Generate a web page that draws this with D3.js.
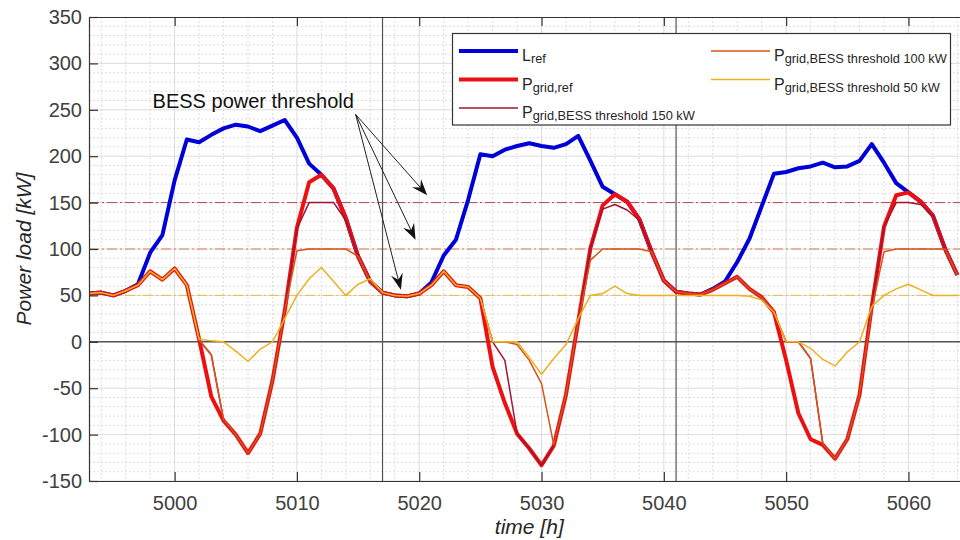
<!DOCTYPE html>
<html>
<head>
<meta charset="utf-8">
<title>Power load</title>
<style>
  body { margin: 0; background: #fff; }
  text { font-family: Arial, "Liberation Sans", Helvetica, sans-serif; }
</style>
</head>
<body>
<script src="https://cdn.jsdelivr.net/npm/d3@7"></script>
<script>
// hours 4993 .. 5064
var hours = d3.range(4993, 5065);

var lRef = [52, 53, 50, 55, 62, 96, 115, 174, 218, 215, 223, 230, 234, 232, 227, 233, 239,
  220, 192, 180, 165, 133, 92, 65, 53, 50, 49, 52, 64, 93, 110, 153, 202, 200, 207, 211, 214,
  211, 209, 213, 222, 195, 167, 159, 151, 132, 97, 66, 54, 52, 51, 57, 65, 86, 111, 146, 181,
  183, 187, 189, 193, 188, 189, 195, 213, 193, 171, 161, 151, 136, 100, 72];

var pGridRef = [52, 53, 50, 55, 61, 76, 67, 79, 61, 3, -59, -85, -100, -120, -99, -42, 33,
  123, 172, 180, 165, 133, 92, 65, 53, 50, 49, 52, 61, 76, 61, 59, 47, -27, -66, -99, -115,
  -133, -112, -57, 22, 101, 147, 159, 151, 132, 97, 66, 54, 52, 51, 56, 63, 70, 57, 48, 32,
  -20, -77, -105, -111, -126, -105, -57, 38, 124, 158, 161, 151, 136, 100, 72];

var pGrid150 = [52, 53, 50, 55, 61, 76, 67, 79, 61, 2, -14, -84, -100, -120, -99, -42, 33,
  122, 150, 150, 150, 131, 92, 65, 53, 50, 49, 52, 61, 76, 61, 59, 47, 0, -20, -99, -115,
  -133, -112, -57, 22, 101, 143, 148, 142, 131, 97, 66, 54, 52, 51, 56, 63, 70, 57, 48, 32,
  0, 0, -18, -110, -126, -105, -57, 38, 124, 150, 150, 148, 136, 100, 72];

var pGrid100 = [52, 53, 50, 55, 61, 76, 67, 79, 61, 2, -14, -84, -100, -120, -99, -42, 33,
  98, 100, 100, 100, 100, 92, 65, 53, 50, 49, 52, 61, 76, 61, 59, 47, 0, 0, -3, -20,
  -45, -111, -57, 22, 88, 100, 100, 100, 100, 97, 66, 54, 52, 51, 56, 63, 70, 57, 48, 32,
  0, 0, -18, -110, -126, -105, -57, 35, 97, 100, 100, 100, 100, 100, 72];

var pGrid50 = [52, 53, 50, 55, 61, 76, 67, 79, 61, 3, 1, 0, -10, -21, -8, 0, 25,
  50, 68, 80, 65, 50, 62, 68, 53, 50, 49, 52, 61, 76, 61, 59, 47, 0, 0, 0, -17,
  -35, -18, -3, 25, 50, 52, 60, 52, 50, 50, 50, 50, 50, 50, 50, 50, 50, 49, 45, 32,
  0, 0, -7, -19, -26, -11, 0, 38, 50, 57, 62, 56, 50, 50, 50];

var thresholds = [150, 100, 50];
var thresholdColors = ['#a2142f', '#d95319', '#edb120'];

var xTicks = [5000, 5010, 5020, 5030, 5040, 5050, 5060];
var yTicks = [-150, -100, -50, 0, 50, 100, 150, 200, 250, 300, 350];
var xMinor = [4994, 4996, 4998, 5002, 5004, 5006, 5008, 5012, 5014, 5016, 5018, 5022, 5024,
  5026, 5028, 5032, 5034, 5036, 5038, 5042, 5044, 5046, 5048, 5052, 5054, 5056, 5058, 5062, 5064];
var yMinor = d3.range(-140, 350, 10).filter(function(v){ return v % 50 !== 0; });
var markerHours = [5017, 5041];

var series = [
  {name: 'L', sub: 'ref', values: lRef, color: '#0000d8', width: 4},
  {name: 'P', sub: 'grid,ref', values: pGridRef, color: '#ee1010', width: 4},
  {name: 'P', sub: 'grid,BESS threshold 150 kW', values: pGrid150, color: '#a2142f', width: 1.5},
  {name: 'P', sub: 'grid,BESS threshold 100 kW', values: pGrid100, color: '#d95319', width: 1.5},
  {name: 'P', sub: 'grid,BESS threshold 50 kW', values: pGrid50, color: '#edb120', width: 1.5}
];

var svg = d3.select('body').append('svg').attr('width', 960).attr('height', 540);

var plotL = 89, plotT = 17, plotR = 969.6, plotB = 481;
var x = d3.scaleLinear().domain([4993, 5065]).range([plotL, plotR]);
var y = d3.scaleLinear().domain([-150, 350]).range([plotB, plotT]);

svg.append('clipPath').attr('id', 'plotclip').append('rect')
  .attr('x', plotL).attr('y', plotT).attr('width', plotR - plotL).attr('height', plotB - plotT);

var plot = svg.append('g').attr('clip-path', 'url(#plotclip)');

// minor grid
plot.selectAll('.mgx').data(xMinor).enter().append('line')
  .attr('x1', function(d){ return x(d); }).attr('x2', function(d){ return x(d); })
  .attr('y1', plotT).attr('y2', plotB)
  .attr('stroke', '#d4d4d4').attr('stroke-width', 0.8).attr('stroke-dasharray', '2,2');
plot.selectAll('.mgy').data(yMinor).enter().append('line')
  .attr('y1', function(d){ return y(d); }).attr('y2', function(d){ return y(d); })
  .attr('x1', plotL).attr('x2', plotR)
  .attr('stroke', '#d4d4d4').attr('stroke-width', 0.8).attr('stroke-dasharray', '2,2');

// major grid
plot.selectAll('.gx').data(xTicks).enter().append('line')
  .attr('x1', function(d){ return x(d); }).attr('x2', function(d){ return x(d); })
  .attr('y1', plotT).attr('y2', plotB)
  .attr('stroke', '#dcdcdc').attr('stroke-width', 1);
plot.selectAll('.gy').data(yTicks).enter().append('line')
  .attr('y1', function(d){ return y(d); }).attr('y2', function(d){ return y(d); })
  .attr('x1', plotL).attr('x2', plotR)
  .attr('stroke', '#dcdcdc').attr('stroke-width', 1);

// threshold lines (dash-dot)
plot.selectAll('.thr').data(thresholds).enter().append('line')
  .attr('y1', function(d){ return y(d); }).attr('y2', function(d){ return y(d); })
  .attr('x1', plotL).attr('x2', plotR)
  .attr('stroke', function(d, i){ return thresholdColors[i]; })
  .attr('stroke-opacity', 0.75)
  .attr('stroke-width', 1)
  .attr('stroke-dasharray', '10,3,2,3');

// zero line and vertical markers
plot.append('line')
  .attr('x1', plotL).attr('x2', plotR).attr('y1', y(0)).attr('y2', y(0))
  .attr('stroke', '#555').attr('stroke-width', 1.6);
plot.selectAll('.vm').data(markerHours).enter().append('line')
  .attr('x1', function(d){ return x(d); }).attr('x2', function(d){ return x(d); })
  .attr('y1', plotT).attr('y2', plotB)
  .attr('stroke', '#555').attr('stroke-width', 1.2);

// series
var line = d3.line()
  .x(function(d, i){ return x(hours[i]); })
  .y(function(d){ return y(d); });

plot.selectAll('.series').data(series).enter().append('path')
  .attr('d', function(s){ return line(s.values); })
  .attr('fill', 'none')
  .attr('stroke', function(s){ return s.color; })
  .attr('stroke-width', function(s){ return s.width; })
  .attr('stroke-linejoin', 'round');

// axes
var fmt = function(d){ return String(d); };
var axisColor = '#333';

function styleAxis(g) {
  g.select('.domain').attr('stroke', axisColor).attr('stroke-width', 1.2);
  g.selectAll('.tick line').attr('stroke', axisColor).attr('stroke-width', 1.2);
  g.selectAll('.tick text').attr('fill', '#404040').attr('font-size', 20)
    .attr('font-family', 'Arial, "Liberation Sans", sans-serif');
}

svg.append('g').attr('transform', 'translate(' + plotL + ',0)')
  .call(d3.axisLeft(y).tickValues(yTicks).tickFormat(fmt).tickSizeInner(-9).tickSizeOuter(0).tickPadding(7))
  .call(styleAxis);

svg.append('g').attr('transform', 'translate(0,' + plotB + ')')
  .call(d3.axisBottom(x).tickValues(xTicks).tickFormat(fmt).tickSizeInner(-9).tickSizeOuter(0).tickPadding(15))
  .call(styleAxis);

svg.append('g').attr('transform', 'translate(0,' + plotT + ')')
  .call(d3.axisTop(x).tickValues(xTicks).tickFormat('').tickSizeInner(-9).tickSizeOuter(0))
  .call(styleAxis);

// axis labels
svg.append('text')
  .attr('transform', 'translate(31,' + ((plotT + plotB) / 2) + ') rotate(-90)')
  .attr('text-anchor', 'middle')
  .attr('font-size', 21).attr('font-style', 'italic').attr('fill', '#262626')
  .text('Power load [kW]');

svg.append('text')
  .attr('x', (plotL + plotR) / 2).attr('y', 534)
  .attr('text-anchor', 'middle')
  .attr('font-size', 21).attr('font-style', 'italic').attr('fill', '#262626')
  .text('time [h]');

// annotation
var annoText = {h: 4998.2, v: 252};
var annoStart = {h: 5014.8, v: 245};
var annoTargets = [{h: 5020.65, v: 158}, {h: 5019.7, v: 110}, {h: 5018.5, v: 56}];

svg.append('text')
  .attr('x', x(annoText.h)).attr('y', y(annoText.v))
  .attr('font-size', 20).attr('fill', '#111')
  .text('BESS power threshold');

annoTargets.forEach(function(t) {
  var sx = x(annoStart.h), sy = y(annoStart.v), tx = x(t.h), ty = y(t.v);
  var ang = Math.atan2(ty - sy, tx - sx);
  var L = 16, W = 12;
  svg.append('line')
    .attr('x1', sx).attr('y1', sy)
    .attr('x2', tx - Math.cos(ang) * L * 0.6).attr('y2', ty - Math.sin(ang) * L * 0.6)
    .attr('stroke', '#222').attr('stroke-width', 1);
  svg.append('path')
    .attr('d', 'M0,0 L' + (-L) + ',' + (-W / 2) + ' L' + (-L * 0.65) + ',0 L' + (-L) + ',' + (W / 2) + ' Z')
    .attr('transform', 'translate(' + tx + ',' + ty + ') rotate(' + (ang * 180 / Math.PI) + ')')
    .attr('fill', '#111');
});

// legend
var legend = svg.append('g');
legend.append('rect')
  .attr('x', 452.5).attr('y', 33.5).attr('width', 498).attr('height', 91.5)
  .attr('fill', '#fff').attr('stroke', '#333').attr('stroke-width', 1.2);

var legendPos = [
  {x: 459, y: 51}, {x: 459, y: 79.5}, {x: 459, y: 108},
  {x: 711, y: 51}, {x: 711, y: 79.5}
];

series.forEach(function(s, i) {
  var p = legendPos[i];
  legend.append('line')
    .attr('x1', p.x).attr('x2', p.x + 59).attr('y1', p.y).attr('y2', p.y)
    .attr('stroke', s.color).attr('stroke-width', s.width);
  var t = legend.append('text')
    .attr('x', p.x + 63).attr('y', p.y + 10)
    .attr('fill', '#262626').attr('font-size', 16);
  t.append('tspan').text(s.name);
  t.append('tspan').attr('font-size', 12.8).attr('dy', 2).text(s.sub);
});
</script>
</body>
</html>
